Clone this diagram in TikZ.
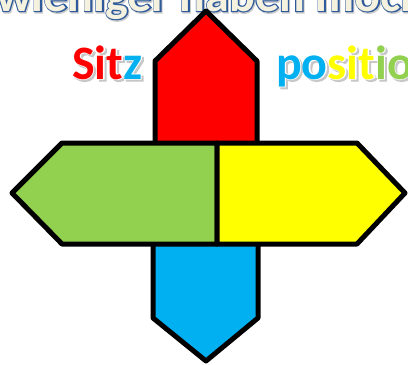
\documentclass[tikz,border=0pt]{standalone}
\usepackage{fontspec}
\setmainfont{Carlito}
\newfontfamily\thickfont[FakeBold=3]{Carlito}
\newfontfamily\rimfont[FakeBold=5]{Carlito}
\definecolor{offred}{HTML}{FF0000}
\definecolor{offblue}{HTML}{00B0F0}
\definecolor{offgreen}{HTML}{92D050}
\definecolor{offyellow}{HTML}{FFFF00}
\definecolor{titleblue}{HTML}{2E5A9C}
\definecolor{titlecream}{HTML}{F4F1DE}
\tikzset{
    arm/.style={draw=black,line width=5pt,line join=round},
    word/.style={inner sep=0pt,anchor=base west,font=\bfseries\fontsize{48}{48}\selectfont},
    halo/.style={word,font=\thickfont\bfseries\fontsize{48}{48}\selectfont},
    rim/.style={word,font=\rimfont\bfseries\fontsize{48}{48}\selectfont}
}

\begin{document}
\begin{tikzpicture}[x=1pt,y=-1pt]
    \useasboundingbox (0,0) rectangle (408,365);
    \clip (0,0) rectangle (408,365);
    \fill[white] (0,0) rectangle (408,365);

    %Title
    \node[rim,text=black!20] (titleshadow) at (-3,12.5) {wieniger haben möchten};
    \node[rim,text=titleblue] (titleline) at (-4,11) {wieniger haben möchten};
    \node[word,text=titlecream] (title) at (-4,11) {wieniger haben möchten};

    %Arms
    \draw[arm,fill=offred] (155,150) -- (155,61) -- (206,11) -- (257,61) -- (257,150) -- cycle;
    \draw[arm,fill=offblue] (153,240) -- (153,318) -- (206,361) -- (258,318) -- (258,240) -- cycle;
    \draw[arm,fill=offgreen] (217,143) -- (62,143) -- (12,193) -- (62,244) -- (217,244) -- cycle;
    \draw[arm,fill=offyellow] (217,143) -- (357,143) -- (405,193) -- (357,244) -- (217,244) -- cycle;

    %Words
    \node[halo,text=black!22] (sitzshadow) at (74,81) {Sitz};
    \node[halo,text=white] (sitzhalo) at (72,79) {Sitz};
    \node[word] (sitz) at (72,79) {\textcolor{offred}{Sit}\textcolor{offblue}{z}};
    \node[halo,text=black!22] (posshadow) at (278,81) {position};
    \node[halo,text=white] (poshalo) at (276,79) {position};
    \node[word] (pos) at (276,79)
        {\textcolor{offblue}{po}\textcolor{offyellow}{sit}\textcolor{offgreen}{ion}};
\end{tikzpicture}
\end{document}
